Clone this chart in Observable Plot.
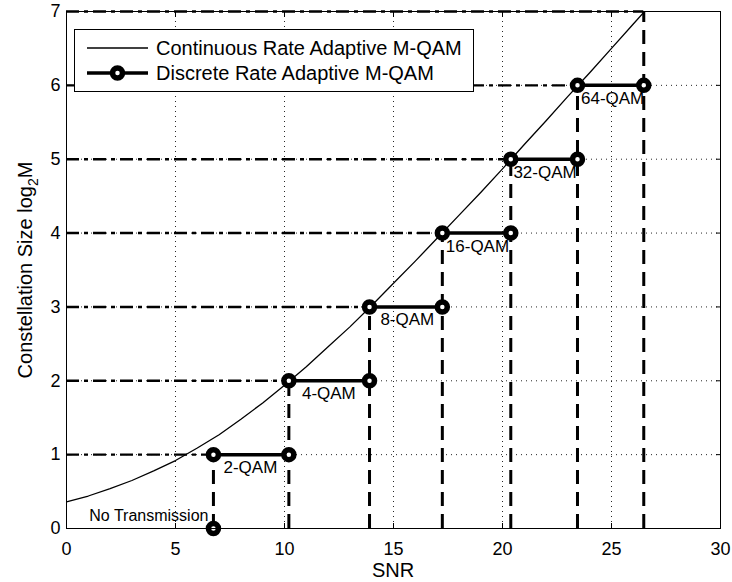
<!DOCTYPE html>
<html><head><meta charset="utf-8">
<script src="https://cdn.jsdelivr.net/npm/d3@7"></script>
<script src="https://cdn.jsdelivr.net/npm/@observablehq/plot@0.6"></script>
<style>body{margin:0;background:#fff;} svg{display:block}</style>
</head><body><div id="chart"></div>
<script>
// ---- data ----
const snrGrid = [0,1,2,3,4,5,6,7,8,9,10,11,12,13,14,15,16,17,18,19,20,21,22,23,24,25,26,27];
const continuousRate = [0.36,0.44,0.54,0.65,0.78,0.92,1.09,1.27,1.48,1.70,1.94,2.19,2.46,2.73,3.02,3.32,3.62,3.93,4.24,4.55,4.87,5.20,5.52,5.85,6.17,6.50,6.83,7.16];
const thresholds = [6.74, 10.2, 13.9, 17.24, 20.38, 23.44, 26.48];
const levels = [1, 2, 3, 4, 5, 6];
const qamLabels = ["2-QAM", "4-QAM", "8-QAM", "16-QAM", "32-QAM", "64-QAM"];
const qamLabelX = [7.2, 10.8, 14.4, 17.4, 20.5, 23.6];
const xTicks = [0, 5, 10, 15, 20, 25, 30];
const yTicks = [0, 1, 2, 3, 4, 5, 6, 7];
const legendLabels = ["Continuous Rate Adaptive M-QAM", "Discrete Rate Adaptive M-QAM"];
const noTxLabel = "No Transmission";

// ---- derived tables ----
const curve = snrGrid.map((x, i) => ({x, y: continuousRate[i]}));
const segments = levels.map((k, i) => ({level: k, x1: thresholds[i], x2: thresholds[i + 1]}));
const markers = [{x: thresholds[0], y: 0}, ...segments.flatMap(s => [{x: s.x1, y: s.level}, {x: s.x2, y: s.level}])];
const hGuides = thresholds.map((t, i) => ({level: i + 1, t}));
const vGuides = thresholds.map((t, i) => ({t, top: i + 1}));
const qam = levels.map((k, i) => ({x: qamLabelX[i], y: k, text: qamLabels[i]}));

const font = "'Liberation Sans', Arial, Helvetica, sans-serif";
const innerX = xTicks.slice(1, -1), innerY = yTicks.slice(1, -1);
const gridStyle = {stroke: "black", strokeOpacity: 0.85, strokeWidth: 1, strokeDasharray: "1,4"};
const fmt = d => String(d);

const plot = Plot.plot({
  width: 732, height: 582,
  marginLeft: 66, marginRight: 12, marginTop: 11, marginBottom: 54,
  style: {fontFamily: font, background: "white", color: "black", overflow: "visible"},
  x: {domain: [0, 30]},
  y: {domain: [0, 7]},
  marks: [
    Plot.gridX(innerX, gridStyle),
    Plot.gridY(innerY, gridStyle),
    Plot.ruleY(hGuides, {y: "level", x1: 0, x2: "t", stroke: "black", strokeWidth: 2.4, strokeDasharray: "13,5,4,5"}),
    Plot.ruleX(vGuides, {x: "t", y1: 0, y2: "top", stroke: "black", strokeWidth: 3, strokeDasharray: "14,8"}),
    Plot.line(curve, {x: "x", y: "y", stroke: "black", strokeWidth: 1.3, clip: true}),
    Plot.link(segments, {x1: "x1", x2: "x2", y1: "level", y2: "level", stroke: "black", strokeWidth: 3.5}),
    Plot.dot(markers, {x: "x", y: "y", r: 5, stroke: "black", strokeWidth: 5.5, fill: "white"}),
    Plot.text(qam, {x: "x", y: "y", text: "text", textAnchor: "start", dy: 13, fontSize: 17, fill: "black"}),
    Plot.text([{x: thresholds[0], y: 0, text: noTxLabel}], {x: "x", y: "y", text: "text", textAnchor: "end", dx: -5, dy: -13, fontSize: 16, fill: "black"}),
    Plot.frame({stroke: "black", strokeWidth: 1}),
    Plot.axisX(xTicks, {tickSize: 0, tickPadding: 14, fontSize: 18, tickFormat: fmt, label: null}),
    Plot.axisX(xTicks, {tickSize: -5, tickFormat: () => "", label: null}),
    Plot.axisX(xTicks, {anchor: "top", tickSize: -5, tickFormat: () => "", label: null}),
    Plot.axisY(yTicks, {tickSize: 0, tickPadding: 6, fontSize: 18, tickFormat: fmt, label: null}),
    Plot.axisY(yTicks, {tickSize: -5, tickFormat: () => "", label: null}),
    Plot.axisY(yTicks, {anchor: "right", tickSize: -5, tickFormat: () => "", label: null})
  ]
});

const svg = d3.select(plot);
// axis titles
svg.append("text").attr("x", 393).attr("y", 577).attr("text-anchor", "middle")
  .attr("font-family", font).attr("font-size", 20).attr("fill", "black").text("SNR");
const yl = svg.append("text").attr("transform", "translate(32,270) rotate(-90)").attr("text-anchor", "middle")
  .attr("font-family", font).attr("font-size", 20).attr("fill", "black");
yl.append("tspan").text("Constellation Size log");
yl.append("tspan").attr("font-size", 14).attr("dy", 6).text("2");
yl.append("tspan").attr("dy", -6).text("M");

// legend
const lg = svg.append("g").attr("font-family", font).attr("font-size", 20).attr("text-anchor", "start");
lg.append("rect").attr("x", 74.5).attr("y", 29.5).attr("width", 399).attr("height", 62)
  .attr("fill", "white").attr("stroke", "black").attr("stroke-width", 1);
const rowsY = [48, 73];
lg.append("line").attr("x1", 87).attr("x2", 148).attr("y1", rowsY[0]).attr("y2", rowsY[0])
  .attr("stroke", "black").attr("stroke-width", 1.3);
lg.append("line").attr("x1", 87).attr("x2", 148).attr("y1", rowsY[1]).attr("y2", rowsY[1])
  .attr("stroke", "black").attr("stroke-width", 3.5);
lg.append("circle").attr("cx", 117.5).attr("cy", rowsY[1]).attr("r", 5)
  .attr("fill", "white").attr("stroke", "black").attr("stroke-width", 5.5);
legendLabels.forEach((t, i) => {
  lg.append("text").attr("x", 156).attr("y", rowsY[i]).attr("dy", "0.35em")
    .attr("text-anchor", "start").attr("fill", "black").text(t);
});

document.getElementById("chart").appendChild(plot);
</script>
</body></html>
